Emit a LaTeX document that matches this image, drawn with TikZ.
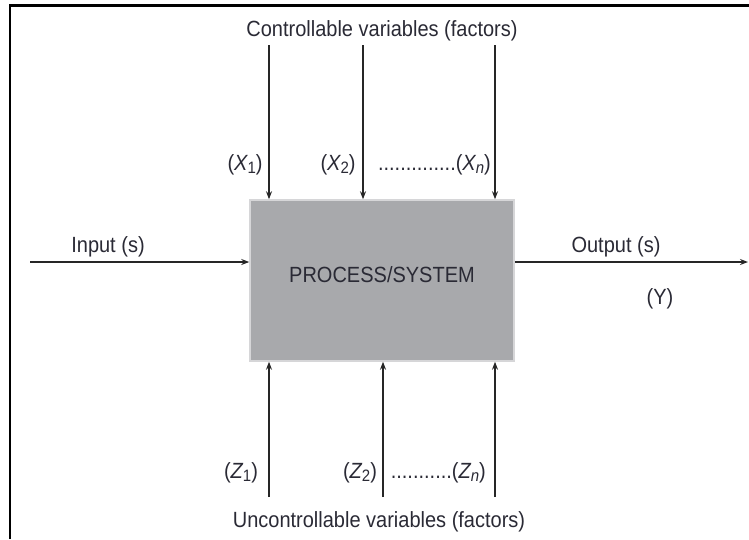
\documentclass[tikz,border=0pt]{standalone}
\usepackage{fontspec}
\setmainfont{Liberation Sans}
\usetikzlibrary{arrows.meta}
\definecolor{boxgrey}{HTML}{A8A9AC}
\definecolor{boxedge}{HTML}{D6D6D8}
\definecolor{txt}{HTML}{2A2A35}
\newcommand{\vstr}[1]{\scalebox{1}[1.1]{#1}}
\newcommand{\sbs}[1]{\raisebox{-0.28ex}{\fontsize{15}{18}\selectfont #1}}
\begin{document}
\begin{tikzpicture}[x=1pt,y=-1pt,
  lbl/.style={font=\fontsize{20}{24}\selectfont, inner sep=0pt, text=txt},
  arr/.style={-{Stealth[length=8pt,width=6pt]}, line width=1.3pt, draw=black!85},
  sysbox/.style={draw=boxedge, line width=1.5pt, fill=boxgrey, minimum width=264pt, minimum height=161pt, inner sep=0pt}]
\path[use as bounding box] (0,0) rectangle (749,539);
\draw[line width=2.6pt] (10,539) -- (10,5.5) -- (749,5.5);
% process box
\node[sysbox] (sys) at (382,280.5) {};
\node[lbl] (syst) at (382,275) {\vstr{PROCESS/SYSTEM}};
% top labels and arrows
\node[lbl] (ctrl) at (382,31) {\vstr{Controllable variables (factors)}};
\coordinate (t1) at (269,45);
\coordinate (t2) at (363,45);
\coordinate (t3) at (495,45);
\draw[arr] (t1) -- (t1 |- sys.north);
\draw[arr] (t2) -- (t2 |- sys.north);
\draw[arr] (t3) -- (t3 |- sys.north);
\node[lbl] (x1) at (245,165) {\vstr{({\itshape X}\sbs{1})}};
\node[lbl] (x2) at (338,165) {\vstr{({\itshape X}\sbs{2})}};
\node[lbl, anchor=east] (xn) at (491,165) {\vstr{..............({\itshape X}\sbs{\itshape n})}};
% input / output
\coordinate (in) at (30,262);
\coordinate (out) at (748,262);
\draw[arr] (in) -- (in -| sys.west);
\draw[arr] (sys.east |- out) -- (out);
\node[lbl] (inl) at (108,247) {\vstr{Input (s)}};
\node[lbl] (outl) at (616,247) {\vstr{Output (s)}};
\node[lbl] (yl) at (660,299) {\vstr{(Y)}};
% bottom arrows and labels
\coordinate (b1) at (269,497);
\coordinate (b2) at (383,497);
\coordinate (b3) at (495,497);
\draw[arr] (b1) -- (b1 |- sys.south);
\draw[arr] (b2) -- (b2 |- sys.south);
\draw[arr] (b3) -- (b3 |- sys.south);
\node[lbl] (z1) at (241,473) {\vstr{({\itshape Z}\sbs{1})}};
\node[lbl] (z2) at (360,473) {\vstr{({\itshape Z}\sbs{2})}};
\node[lbl, anchor=east] (zn) at (486,473) {\vstr{...........({\itshape Z}\sbs{\itshape n})}};
\node[lbl] (unc) at (379,522) {\vstr{Uncontrollable variables (factors)}};
\end{tikzpicture}
\end{document}
